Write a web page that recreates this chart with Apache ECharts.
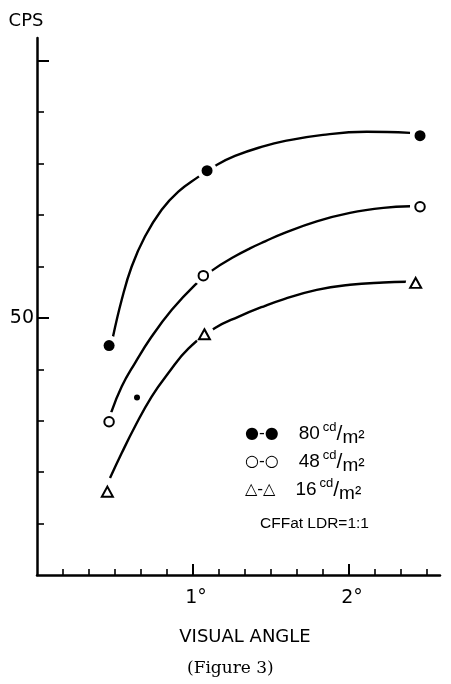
<!DOCTYPE html>
<html>
<head>
<meta charset="utf-8">
<script src="https://cdn.jsdelivr.net/npm/echarts@6/dist/echarts.min.js"></script>
<style>html,body{margin:0;padding:0;background:#fff;}#c{width:451px;height:684px;}</style>
</head>
<body>
<div id="c"></div>
<script>
// ---- data ----
const seriesNames = ['80 cd/m²', '48 cd/m²', '16 cd/m²'];
const legendSymbols = ['●-●', '○-○', '△-△'];
const legendValues = ['80', '48', '16'];

// measured points (visual angle in degrees, CPS)
const marker80 = [[0.462, 47.3], [1.090, 64.3], [2.455, 67.7]];
const marker48 = [[0.462, 39.9], [1.066, 54.1], [2.455, 60.8]];
const marker16 = [[0.451, 33.1], [1.073, 48.4], [2.427, 53.4]];
const strayDot = [[0.641, 42.25]];

// hand-drawn curves
const curve80 = [[0.487, 48.15], [0.543, 51.75], [0.607, 54.99], [0.692, 57.90], [0.799, 60.50], [0.906, 62.27], [1.034, 63.70], [1.141, 64.77], [1.269, 65.74], [1.462, 66.72], [1.577, 67.15], [1.833, 67.78], [2.113, 68.08], [2.391, 67.98]];
const curve48 = [[0.474, 40.74], [0.543, 43.32], [0.628, 45.60], [0.735, 48.18], [0.864, 50.78], [1.013, 53.21], [1.128, 54.66], [1.269, 55.98], [1.365, 56.75], [1.462, 57.43], [1.579, 58.21], [1.793, 59.38], [2.006, 60.20], [2.220, 60.69], [2.391, 60.84]];
const curve16 = [[0.468, 34.42], [0.543, 36.85], [0.628, 39.44], [0.735, 42.35], [0.842, 44.63], [0.970, 47.00], [1.141, 49.00], [1.290, 50.10], [1.462, 51.17], [1.579, 51.80], [1.793, 52.72], [2.006, 53.21], [2.220, 53.43], [2.370, 53.50]];

// axes / ticks
const xMin = 0, xMax = 2.583;
const yMin = 25, yMax = 77.2;
const xMinorSixths = [1, 2, 3, 4, 5, 7, 8, 9, 10, 11, 13, 14, 15];
const xMajorTicks = [1, 2];
const xTickLabels = ['1°', '2°'];
const yMinorTicks = [30, 35, 40, 45, 55, 60, 65, 70];
const yMajorTicks = [50, 75];
const yTickLabels = [50];

const FONT = 'DejaVu Sans';
const FONT2 = 'Liberation Sans';
const chart = echarts.init(document.getElementById('c'), null, {renderer: 'canvas'});

const axisLineStyle = {color: '#000', width: 2.5};

const option = {
  backgroundColor: '#fff',
  animation: false,
  title: [
    {text: '(Figure 3)', left: 182, top: 655,
     textStyle: {fontFamily: 'DejaVu Serif', fontSize: 17, fontWeight: 'normal', color: '#000'}},
    {text: 'CFFat LDR=1:1', left: 255, top: 511,
     textStyle: {fontFamily: FONT2, fontSize: 15.5, fontWeight: 'normal', color: '#000'}}
  ],
  legend: {
    data: seriesNames,
    orient: 'vertical',
    left: 234, top: 416,
    icon: 'none',
    itemWidth: 1, itemHeight: 26, itemGap: 2,
    selectedMode: false,
    formatter: function (name) {
      const i = seriesNames.indexOf(name);
      return '{s|' + legendSymbols[i] + '}{n|' + legendValues[i] + '}{c|cd}{sl|/}{m|m²}';
    },
    textStyle: {
      color: '#000', fontFamily: FONT,
      rich: {
        s: {fontSize: 16, fontFamily: FONT, color: '#000', lineHeight: 26},
        n: {fontSize: 19, fontFamily: FONT2, color: '#000', lineHeight: 26, padding: [0, 1, 0, 20]},
        c: {fontSize: 13, fontFamily: FONT2, color: '#000', lineHeight: 15, verticalAlign: 'top', padding: [0, 0, 0, 2]},
        sl: {fontSize: 21, fontFamily: FONT2, color: '#000', lineHeight: 26},
        m: {fontSize: 19, fontFamily: FONT2, color: '#000', lineHeight: 21, verticalAlign: 'bottom'}
      }
    }
  },
  grid: {left: 37, right: 11, top: 38, bottom: 109, containLabel: false, outerBoundsMode: 'none'},
  xAxis: [
    {type: 'value', min: xMin, max: xMax, position: 'bottom',
     axisLine: {show: true, lineStyle: axisLineStyle},
     axisTick: {show: true, inside: true, length: 6, lineStyle: {color: '#000', width: 1.6},
                customValues: xMinorSixths.map(k => k / 6)},
     axisLabel: {show: false},
     splitLine: {show: false}},
    {type: 'value', min: xMin, max: xMax, position: 'bottom',
     axisLine: {show: false},
     axisTick: {show: true, inside: true, length: 11, lineStyle: {color: '#000', width: 2},
                customValues: xMajorTicks},
     axisLabel: {show: true, customValues: xMajorTicks, margin: 14,
                 fontFamily: FONT, fontSize: 19, color: '#000', padding: [0, 0, 0, 6],
                 formatter: v => xTickLabels[xMajorTicks.indexOf(Math.round(v))] || ''},
     splitLine: {show: false},
     name: 'VISUAL ANGLE', nameLocation: 'middle', nameGap: 53,
     nameTextStyle: {fontFamily: FONT, fontSize: 18, color: '#000', padding: [0, 0, 0, 13]}}
  ],
  yAxis: [
    {type: 'value', min: yMin, max: yMax, position: 'left',
     axisLine: {show: true, lineStyle: axisLineStyle},
     axisTick: {show: true, inside: true, length: 7, lineStyle: {color: '#000', width: 1.6},
                customValues: yMinorTicks},
     axisLabel: {show: false},
     splitLine: {show: false},
     name: 'CPS', nameLocation: 'end', nameGap: 8,
     nameTextStyle: {fontFamily: FONT, fontSize: 18, color: '#000', align: 'center', padding: [0, 22, 0, 0]}},
    {type: 'value', min: yMin, max: yMax, position: 'left',
     axisLine: {show: false},
     axisTick: {show: true, inside: true, length: 12, lineStyle: {color: '#000', width: 2},
                customValues: yMajorTicks},
     axisLabel: {show: true, customValues: yTickLabels, margin: 3,
                 fontFamily: FONT, fontSize: 19, color: '#000'},
     splitLine: {show: false}}
  ],
  series: [
    {name: seriesNames[0], type: 'line', data: curve80, showSymbol: false, smooth: 0.45,
     lineStyle: {color: '#000', width: 2.4}, z: 1, silent: true},
    {name: seriesNames[1], type: 'line', data: curve48, showSymbol: false, smooth: 0.45,
     lineStyle: {color: '#000', width: 2.4}, z: 1, silent: true},
    {name: seriesNames[2], type: 'line', data: curve16, showSymbol: false, smooth: 0.45,
     lineStyle: {color: '#000', width: 2.4}, z: 1, silent: true},
    {name: 'gap', type: 'scatter', data: marker80.concat(marker48, marker16), symbol: 'circle', symbolSize: 20,
     itemStyle: {color: '#fff', opacity: 1}, z: 3, silent: true},
    {name: seriesNames[0], type: 'scatter', data: marker80, symbol: 'circle', symbolSize: 11,
     itemStyle: {color: '#000', opacity: 1}, z: 4},
    {name: seriesNames[1], type: 'scatter', data: marker48, symbol: 'circle', symbolSize: 9.5,
     itemStyle: {color: '#fff', borderColor: '#000', borderWidth: 2, opacity: 1}, z: 4},
    {name: seriesNames[2], type: 'scatter', data: marker16, symbol: 'triangle', symbolSize: [11, 10],
     itemStyle: {color: '#fff', borderColor: '#000', borderWidth: 2, opacity: 1}, z: 4},
    {name: 'dot', type: 'scatter', data: strayDot, symbol: 'circle', symbolSize: 6,
     itemStyle: {color: '#000', opacity: 1}, z: 4}
  ]
};
chart.setOption(option);
</script>
</body>
</html>
